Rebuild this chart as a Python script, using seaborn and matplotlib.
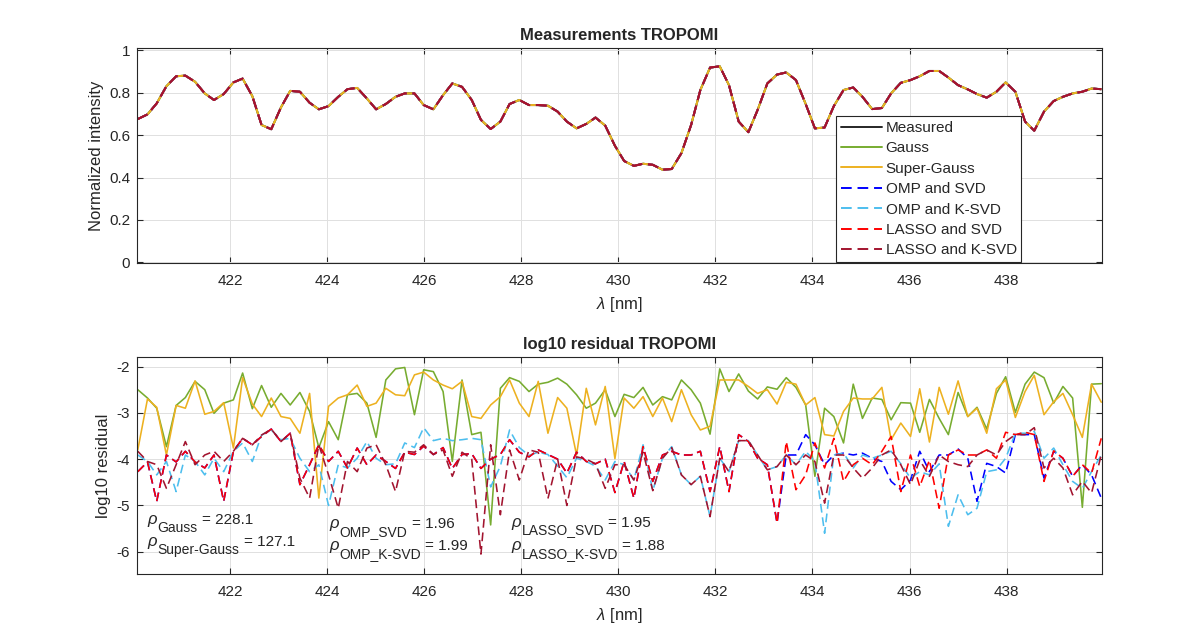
import numpy as np
import pandas as pd
import matplotlib
matplotlib.use("Agg")
import matplotlib.pyplot as plt
import seaborn as sns

# ---------------- data ----------------
wavelength = [
    420.10, 420.30, 420.49, 420.69, 420.89, 421.08, 421.28, 421.48, 421.67, 421.87,
    422.07, 422.26, 422.46, 422.65, 422.85, 423.05, 423.24, 423.44, 423.64, 423.83,
    424.03, 424.23, 424.42, 424.62, 424.82, 425.01, 425.21, 425.41, 425.60, 425.80,
    425.99, 426.19, 426.39, 426.58, 426.78, 426.98, 427.17, 427.37, 427.57, 427.76,
    427.96, 428.16, 428.35, 428.55, 428.75, 428.94, 429.14, 429.34, 429.53, 429.73,
    429.93, 430.12, 430.32, 430.51, 430.71, 430.91, 431.10, 431.30, 431.50, 431.69,
    431.89, 432.09, 432.28, 432.48, 432.68, 432.87, 433.07, 433.27, 433.46, 433.66,
    433.86, 434.05, 434.25, 434.44, 434.64, 434.84, 435.03, 435.23, 435.43, 435.62,
    435.82, 436.02, 436.21, 436.41, 436.61, 436.80, 437.00, 437.20, 437.39, 437.59,
    437.79, 437.98, 438.18, 438.38, 438.57, 438.77, 438.97, 439.16, 439.36, 439.56,
    439.75, 439.95]

measured = [
    0.676, 0.698, 0.750, 0.831, 0.878, 0.881, 0.852, 0.797, 0.766, 0.794,
    0.849, 0.867, 0.784, 0.648, 0.628, 0.731, 0.809, 0.805, 0.753, 0.722,
    0.737, 0.781, 0.817, 0.823, 0.773, 0.722, 0.747, 0.781, 0.797, 0.797,
    0.742, 0.722, 0.789, 0.844, 0.828, 0.766, 0.672, 0.629, 0.664, 0.747,
    0.766, 0.742, 0.742, 0.739, 0.711, 0.664, 0.632, 0.653, 0.683, 0.645,
    0.550, 0.478, 0.455, 0.465, 0.460, 0.437, 0.440, 0.515, 0.648, 0.813,
    0.919, 0.925, 0.836, 0.664, 0.614, 0.719, 0.844, 0.886, 0.896, 0.860,
    0.747, 0.632, 0.636, 0.737, 0.813, 0.825, 0.781, 0.723, 0.728, 0.797,
    0.847, 0.860, 0.878, 0.903, 0.903, 0.872, 0.836, 0.816, 0.794, 0.777,
    0.805, 0.849, 0.805, 0.664, 0.621, 0.711, 0.761, 0.781, 0.797, 0.805,
    0.820, 0.817]

# fitted spectra are visually identical to the measurement
fit_gauss = measured
fit_super_gauss = measured
fit_omp_svd = measured
fit_omp_ksvd = measured
fit_lasso_svd = measured
fit_lasso_ksvd = measured

res_gauss = [
    -2.50, -2.68, -2.90, -3.73, -2.84, -2.67, -2.32, -2.50, -3.01, -2.79,
    -2.72, -2.14, -2.91, -2.41, -2.88, -2.58, -2.83, -2.56, -2.97, -3.75,
    -3.19, -3.58, -2.61, -2.58, -2.79, -3.53, -2.29, -2.05, -2.02, -3.04,
    -2.07, -2.11, -2.54, -4.05, -2.29, -3.47, -3.42, -5.42, -2.47, -2.24,
    -2.32, -2.54, -2.38, -2.34, -2.25, -2.38, -2.61, -2.90, -2.79, -2.50,
    -3.08, -2.60, -2.67, -2.45, -2.83, -2.65, -2.72, -2.29, -2.50, -2.79,
    -3.46, -2.05, -2.54, -2.16, -2.53, -2.70, -2.44, -2.49, -2.24, -2.45,
    -2.83, -4.37, -2.90, -3.08, -3.65, -2.38, -3.12, -2.68, -2.71, -3.15,
    -2.78, -2.79, -3.42, -2.71, -3.12, -3.47, -2.56, -3.08, -2.88, -3.35,
    -2.58, -2.22, -2.99, -2.38, -2.12, -2.24, -2.79, -2.43, -2.68, -5.04,
    -2.38, -2.37]

res_super_gauss = [
    -3.80, -2.70, -2.88, -3.91, -2.84, -2.90, -2.31, -3.03, -2.97, -2.78,
    -3.76, -2.24, -2.81, -3.08, -2.68, -3.08, -3.12, -3.44, -2.58, -4.84,
    -2.86, -2.68, -2.61, -2.40, -2.86, -2.79, -2.47, -2.61, -2.63, -2.18,
    -2.12, -2.29, -2.40, -2.48, -2.32, -3.08, -3.12, -2.83, -2.65, -2.29,
    -2.79, -3.08, -2.32, -3.44, -2.67, -2.90, -3.91, -2.47, -3.26, -2.43,
    -3.99, -2.68, -2.90, -2.65, -3.08, -2.68, -3.19, -2.50, -3.04, -3.37,
    -3.29, -2.29, -2.29, -2.29, -2.43, -2.58, -2.50, -2.81, -2.34, -2.38,
    -2.83, -2.67, -3.47, -3.50, -2.97, -2.68, -2.70, -2.70, -2.45, -3.58,
    -3.22, -3.51, -2.48, -3.63, -2.45, -3.03, -2.31, -3.08, -2.90, -3.44,
    -2.48, -2.29, -3.10, -2.54, -2.19, -3.04, -2.76, -2.58, -3.04, -3.53,
    -2.38, -2.77]

res_omp_svd = [
    -4.27, -4.06, -4.91, -3.91, -4.06, -3.83, -4.06, -4.19, -3.91, -4.91,
    -3.83, -3.55, -3.69, -3.51, -3.35, -3.62, -3.44, -4.55, -4.12, -3.69,
    -4.05, -3.83, -4.19, -3.76, -4.12, -3.91, -4.05, -4.20, -3.85, -3.90,
    -3.72, -3.90, -3.75, -4.20, -3.90, -3.88, -4.20, -4.00, -3.90, -3.58,
    -3.85, -3.95, -3.80, -3.90, -4.00, -4.30, -3.85, -4.05, -4.10, -4.00,
    -4.72, -4.05, -4.84, -3.73, -4.48, -3.91, -3.83, -3.91, -3.91, -3.83,
    -4.70, -3.73, -4.70, -3.47, -3.62, -3.98, -4.12, -5.38, -3.91, -3.91,
    -3.47, -3.69, -4.12, -3.91, -3.87, -3.91, -3.87, -3.98, -4.05, -4.48,
    -4.66, -4.45, -3.83, -4.27, -3.91, -3.91, -3.78, -3.98, -4.91, -4.09,
    -4.16, -4.30, -3.47, -3.47, -3.47, -4.41, -3.83, -3.98, -4.37, -4.12,
    -4.34, -4.84]

res_omp_ksvd = [
    -3.91, -4.05, -4.34, -4.05, -4.70, -3.91, -4.05, -4.34, -3.98, -4.27,
    -3.83, -3.65, -4.05, -3.48, -3.37, -3.58, -3.55, -3.98, -4.27, -4.12,
    -5.00, -4.12, -4.19, -3.98, -3.62, -3.98, -4.12, -4.10, -3.65, -3.75,
    -3.32, -3.60, -3.55, -3.60, -3.58, -3.55, -3.58, -4.60, -4.15, -3.37,
    -3.75, -3.92, -3.85, -3.90, -4.15, -4.40, -3.98, -4.05, -4.15, -4.45,
    -4.05, -4.12, -4.45, -3.69, -4.68, -3.98, -3.73, -4.34, -4.55, -4.37,
    -5.24, -3.98, -4.27, -3.60, -3.60, -3.91, -4.23, -4.16, -3.91, -4.12,
    -3.83, -4.05, -5.60, -3.91, -3.87, -4.19, -3.91, -3.98, -3.91, -3.83,
    -4.10, -4.41, -4.27, -4.34, -4.10, -5.45, -4.77, -5.20, -5.06, -4.27,
    -4.23, -3.98, -3.44, -3.44, -3.40, -3.98, -3.76, -4.12, -4.48, -4.63,
    -4.27, -3.91]

res_lasso_svd = [
    -4.27, -4.06, -4.91, -3.91, -4.06, -3.83, -4.06, -4.19, -3.91, -4.91,
    -3.83, -3.55, -3.69, -3.51, -3.35, -3.62, -3.44, -4.55, -4.12, -3.69,
    -4.05, -3.83, -4.19, -3.76, -4.12, -3.91, -4.05, -4.20, -3.85, -3.90,
    -3.72, -3.90, -3.75, -4.20, -3.90, -3.88, -4.20, -4.00, -3.90, -3.58,
    -3.85, -3.95, -3.80, -3.90, -4.00, -4.30, -3.85, -4.05, -4.10, -4.00,
    -4.72, -4.05, -4.84, -3.73, -4.48, -3.91, -3.83, -3.91, -3.91, -3.83,
    -4.70, -3.73, -4.70, -3.47, -3.62, -3.98, -4.12, -5.38, -3.62, -4.66,
    -4.34, -3.65, -4.19, -3.55, -4.48, -4.12, -3.98, -4.12, -3.83, -3.51,
    -4.70, -3.91, -4.59, -4.02, -5.06, -3.91, -3.80, -3.91, -3.91, -3.80,
    -3.98, -3.42, -3.47, -3.42, -3.47, -4.48, -3.82, -3.98, -4.37, -4.12,
    -4.30, -3.55]

res_lasso_ksvd = [
    -3.83, -4.05, -4.12, -4.63, -4.12, -3.62, -4.12, -3.91, -3.83, -4.05,
    -3.83, -3.55, -3.69, -3.48, -3.35, -3.62, -3.44, -4.41, -4.84, -3.69,
    -4.34, -5.06, -4.05, -4.27, -3.76, -3.69, -4.12, -4.70, -3.83, -3.85,
    -3.69, -3.90, -3.80, -4.37, -3.85, -4.00, -6.05, -3.69, -5.20, -3.80,
    -4.45, -3.80, -3.85, -4.85, -4.00, -5.00, -3.95, -4.00, -4.10, -4.63,
    -4.12, -4.12, -4.45, -3.85, -4.68, -3.98, -3.75, -4.34, -4.55, -4.37,
    -5.24, -3.98, -4.27, -3.60, -3.60, -3.91, -4.23, -4.16, -3.91, -4.12,
    -3.91, -4.05, -4.95, -3.91, -3.91, -4.19, -4.41, -4.19, -3.91, -3.80,
    -4.12, -4.55, -4.02, -4.37, -3.91, -4.05, -4.12, -4.16, -3.91, -3.80,
    -3.91, -3.62, -3.47, -3.47, -3.32, -4.19, -3.98, -4.19, -4.77, -4.48,
    -4.73, -3.91]

series_names = ["Measured", "Gauss", "Super-Gauss", "OMP and SVD",
                "OMP and K-SVD", "LASSO and SVD", "LASSO and K-SVD"]
series_colors = ["#262626", "#77AC30", "#EDB120", "#0000FF",
                 "#4DBEEE", "#FF0000", "#A2142F"]

rho_subscripts = ["Gauss", "Super-Gauss", "OMP_SVD", "OMP_K-SVD",
                  "LASSO_SVD", "LASSO_K-SVD"]
rho_values = ["228.1", "127.1", "1.96", "1.99", "1.95", "1.88"]
rho_x = [420.30, 420.30, 424.05, 424.05, 427.80, 427.80]
rho_y = [-5.405, -5.875, -5.485, -5.97, -5.46, -5.97]

# ---------------- style ----------------
sns.set_theme(style="whitegrid")
plt.rcParams['font.family'] = ['Liberation Sans', 'DejaVu Sans']
plt.rcParams['mathtext.fontset'] = 'custom'
plt.rcParams['mathtext.rm'] = 'Liberation Sans'
plt.rcParams['mathtext.it'] = 'Liberation Sans:italic'
plt.rcParams['mathtext.bf'] = 'Liberation Sans:bold'
plt.rcParams['axes.unicode_minus'] = False

TXT = "#262626"
fig = plt.figure(figsize=(11.96, 6.38), dpi=100)
ax1 = fig.add_axes([0.1148, 0.5873, 0.8064, 0.3370])
ax2 = fig.add_axes([0.1148, 0.1003, 0.8064, 0.3397])

dash = (0, (5.5, 3.0))
top_series = [measured, fit_gauss, fit_super_gauss, fit_omp_svd,
              fit_omp_ksvd, fit_lasso_svd, fit_lasso_ksvd]
for i, (vals, name, col) in enumerate(zip(top_series, series_names, series_colors)):
    df = pd.DataFrame({"wl": wavelength, "v": vals})
    ls = dash if i >= 3 else "-"
    sns.lineplot(data=df, x="wl", y="v", ax=ax1, color=col, linewidth=1.4,
                 linestyle=ls, label=name)

bottom_series = [res_gauss, res_super_gauss, res_omp_svd, res_omp_ksvd,
                 res_lasso_svd, res_lasso_ksvd]
for i, (vals, col) in enumerate(zip(bottom_series, series_colors[1:])):
    df = pd.DataFrame({"wl": wavelength, "v": vals})
    ls = dash if i >= 2 else "-"
    sns.lineplot(data=df, x="wl", y="v", ax=ax2, color=col, linewidth=1.15,
                 linestyle=ls, legend=False)

for ax in (ax1, ax2):
    ax.set_facecolor("white")
    for s in ax.spines.values():
        s.set_visible(True)
        s.set_color(TXT)
        s.set_linewidth(0.8)
    ax.tick_params(axis="both", which="both", direction="in", top=True, right=True,
                   bottom=True, left=True, length=4, width=0.8, color=TXT,
                   labelcolor=TXT, labelsize=11, pad=5)
    ax.tick_params(axis="x", pad=8)
    ax.grid(True, color="#e0e0e0", linewidth=0.7)
    ax.set_xlim(420.09, 439.96)
    ax.set_xticks([422, 424, 426, 428, 430, 432, 434, 436, 438])
    ax.set_xlabel(r"$\lambda$ [nm]", fontsize=12, color=TXT, labelpad=5)

ax1.set_ylim(-0.005, 1.01)
ax1.set_yticks([0, 0.2, 0.4, 0.6, 0.8, 1.0])
ax1.set_yticklabels(["0", "0.2", "0.4", "0.6", "0.8", "1"])
ax1.set_ylabel("Normalized intensity", fontsize=12, color=TXT)
ax1.set_title("Measurements TROPOMI", fontsize=12, fontweight="bold", pad=6)

ax2.set_ylim(-6.48, -1.80)
ax2.set_yticks([-6, -5, -4, -3, -2])
ax2.set_ylabel("log10 residual", fontsize=12, color=TXT)
ax2.set_title("log10 residual TROPOMI", fontsize=12, fontweight="bold", pad=6)

leg = ax1.legend(loc="lower left", bbox_to_anchor=(0.7245, 0.006), fontsize=11,
                 frameon=True, fancybox=False, edgecolor=TXT, framealpha=1,
                 handlelength=2.7, borderpad=0.3, labelspacing=0.42,
                 handletextpad=0.25, borderaxespad=0)
leg.get_frame().set_linewidth(0.8)
for t in leg.get_texts():
    t.set_color(TXT)

# rho annotations (MATLAB-like large subscripts)
renderer = fig.canvas.get_renderer()
pt_per_px = 72.0 / fig.dpi
for x, y, sub, val in zip(rho_x, rho_y, rho_subscripts, rho_values):
    t1 = ax2.text(x, y, "\u03c1", fontsize=12, style="italic", va="baseline",
                  ha="left", color=TXT)
    w1 = t1.get_window_extent(renderer).width * pt_per_px
    t2 = ax2.annotate(sub, xy=(x, y), xycoords="data", xytext=(w1 + 0.4, -5.5),
                      textcoords="offset points", fontsize=10, va="baseline",
                      ha="left", color=TXT)
    w2 = t2.get_window_extent(renderer).width * pt_per_px
    ax2.annotate("= " + val, xy=(x, y), xycoords="data",
                 xytext=(w1 + w2 + 3.5, 0), textcoords="offset points",
                 fontsize=11, va="baseline", ha="left", color=TXT)

fig.savefig("out.png", dpi=100, facecolor="white")
